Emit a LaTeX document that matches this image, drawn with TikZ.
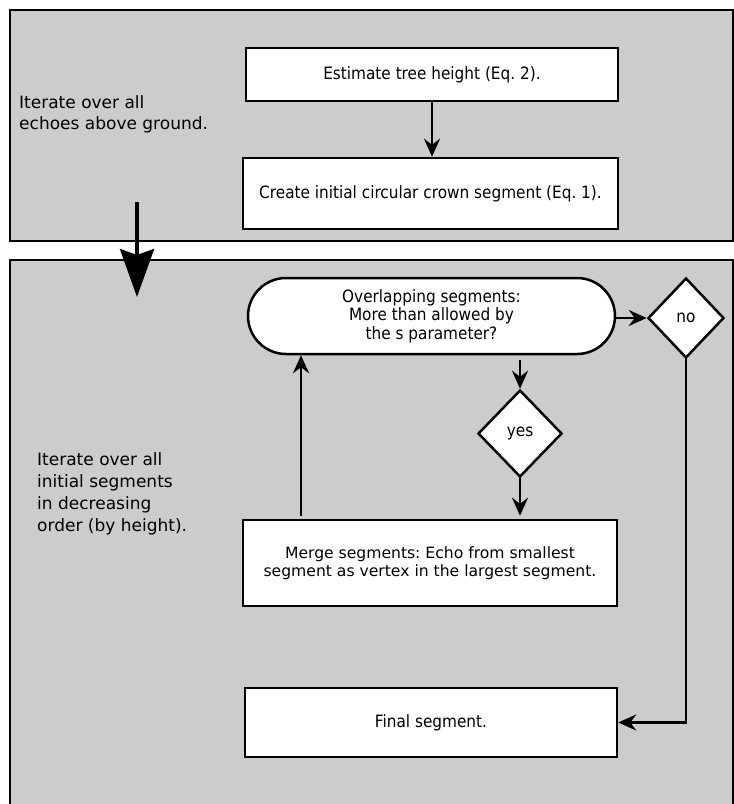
\documentclass[tikz,border=0pt]{standalone}
\usepackage{fontspec}
\setmainfont{DejaVu Sans}
\newfontfamily\condf[FakeStretch=0.9]{DejaVu Sans}
\usetikzlibrary{arrows.meta,shapes.geometric,calc}
\definecolor{panelgray}{HTML}{CCCCCC}
\frenchspacing
\begin{document}
\begin{tikzpicture}[x=1pt,y=-1pt,
  panel/.style={draw=black, line width=2pt, fill=panelgray},
  procbox/.style={draw=black, line width=2.5pt, fill=white, inner sep=0pt, align=center,
    font=\condf\fontsize{17}{18.5}\selectfont},
  mergebox/.style={procbox, font=\fontsize{15.6}{18}\selectfont},
  decision/.style={diamond, draw=black, line width=2.5pt, fill=white, inner sep=0pt,
    font=\condf\fontsize{17}{18.5}\selectfont},
  lefttext/.style={align=left, inner sep=0pt, anchor=west},
  conn/.style={line width=2.5pt, -{Stealth[length=18pt,width=16pt,inset=6pt]}},
  bigarrow/.style={line width=3.5pt, -{Stealth[length=48pt,width=34pt,inset=6pt]}}
]
\useasboundingbox (0,0) rectangle (734,804);
\fill[white] (0,0) rectangle (734,804);
% panels
\draw[panel] (10,10) rectangle (733,241);
\draw[panel] (10,260) rectangle (733,812);
% top panel
\node[procbox, minimum width=372pt, minimum height=53pt] (b1) at (432,74.5) {Estimate tree height (Eq. 2).};
\node[procbox, minimum width=375pt, minimum height=71pt] (b2) at (430.5,193.5) {Create initial circular crown segment (Eq. 1).};
\node[lefttext, font=\fontsize{17}{21}\selectfont] (it1) at (19,114) {Iterate over all\\echoes above ground.};
\draw[conn] (b1.south) -- (b1.south |- b2.north);
% bottom panel
\node[procbox, rounded corners=38pt, minimum width=367pt, minimum height=76pt] (stad) at (431.5,316)
  {Overlapping segments:\\More than allowed by\\the s parameter?};
\node[decision, minimum width=76pt, minimum height=80pt] (no) at (686,318) {no};
\node[decision, minimum width=84pt, minimum height=87pt] (yes) at (520,433.5) {yes};
\node[mergebox, minimum width=374pt, minimum height=86pt] (merge) at (430,563)
  {Merge segments: Echo from smallest\\segment as vertex in the largest segment.};
\node[procbox, minimum width=372pt, minimum height=69pt] (final) at (431,722.5) {Final segment.};
\node[lefttext, font=\fontsize{17}{22}\selectfont] (it2) at (37,494)
  {Iterate over all\\initial segments\\in decreasing\\order (by height).};
\coordinate (ys) at ($(stad.south -| yes.north)+(0,5)$);
\coordinate (ms) at ($(merge.north)+(-129,-3)$);
\draw[conn] (stad.east |- no.west) -- (no.west);
\draw[conn] (ys) -- (yes.north);
\draw[conn] (yes.south) -- ($(yes.south |- merge.north)+(0,-3)$);
\draw[conn] (ms) -- (ms |- stad.south);
\draw[conn] (no.south) |- (final.east);
% big arrow between panels
\coordinate (bigs) at (137,202);
\coordinate (bige) at (137,297);
\draw[bigarrow] (bigs) -- (bige);
\end{tikzpicture}
\end{document}
